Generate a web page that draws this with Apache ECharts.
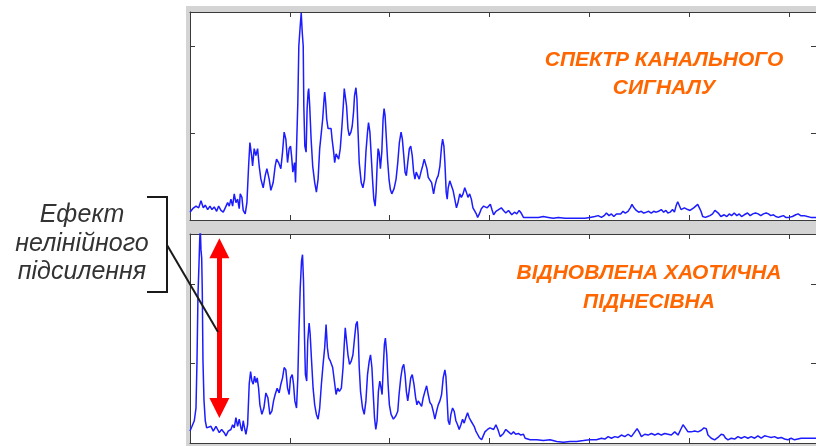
<!DOCTYPE html>
<html>
<head>
<meta charset="utf-8">
<script src="https://cdn.jsdelivr.net/npm/echarts@6/dist/echarts.min.js"></script>
<style>
  html, body { margin: 0; padding: 0; background: #ffffff; }
  #chart { width: 816px; height: 446px; }
</style>
</head>
<body>
<div id="chart"></div>
<script>
// Spectrum of the channel signal: [frequency, amplitude]
const channelSpectrum = [[0,0.09],[2.7,0.13],[6,0.16],[8.7,0.14],[11,0.22],[13.3,0.14],[15.3,0.17],[17.7,0.12],[20,0.16],[22,0.12],[24.3,0.15],[26.7,0.10],[28.7,0.16],[31,0.11],[33.3,0.09],[35.3,0.14],[37.7,0.20],[39.3,0.16],[41,0.24],[42.7,0.16],[44.3,0.30],[46,0.20],[47.7,0.24],[49.3,0.13],[50.3,0.30],[52,0.26],[53.3,0.11],[55.3,0.07],[57,0.20],[58.7,0.62],[60,0.89],[61.7,0.74],[62.7,0.62],[64.3,0.82],[66,0.74],[67.7,0.82],[69.3,0.62],[71,0.47],[73.3,0.37],[75.3,0.51],[77,0.59],[79.3,0.47],[81,0.34],[83.3,0.43],[85.3,0.62],[86.7,0.70],[88.7,0.66],[91,0.59],[92.7,0.78],[94.3,1.01],[96,0.93],[97.7,0.66],[99.3,0.82],[100.7,0.85],[101.7,0.74],[103,0.55],[104.7,0.66],[105.7,0.43],[106.7,0.82],[108,1.35],[109,2.00],[110.4,2.23],[111.4,2.38],[112.4,2.16],[113.4,2.00],[114,1.31],[115,0.85],[116.3,0.78],[117.3,1.28],[118.3,1.47],[118.9,1.51],[119.9,1.31],[121.3,0.93],[122.9,0.62],[124.9,0.43],[126.6,0.32],[128.3,0.47],[129.9,0.82],[131.6,1.01],[132.9,1.16],[134.3,1.39],[134.9,1.47],[135.9,1.35],[136.9,1.16],[138.3,1.05],[139.9,1.06],[141.3,1.05],[142.3,0.93],[143.9,0.78],[144.9,0.66],[146.3,0.76],[147.9,0.74],[148.9,0.70],[150.5,0.82],[152.2,1.08],[153.5,1.31],[154.5,1.51],[155.5,1.51],[156.8,1.31],[158.2,1.05],[159.5,0.97],[161.2,1.01],[162.5,1.08],[163.8,1.24],[164.8,1.43],[166.2,1.52],[167.2,1.39],[168.2,1.05],[169.5,0.66],[171.5,0.43],[173.2,0.37],[174.8,0.47],[176.2,0.78],[177.8,1.01],[178.8,1.12],[180.2,1.01],[181.5,0.74],[182.8,0.47],[184.1,0.24],[185.4,0.16],[186.4,0.32],[187.4,0.62],[188.4,0.82],[189.4,0.78],[190.7,0.59],[192.1,0.78],[193.4,1.16],[194.4,1.28],[195.4,1.20],[196.7,0.93],[197.9,0.69],[199.4,0.46],[200.7,0.35],[202.1,0.30],[204.4,0.36],[206.4,0.47],[208.1,0.66],[209.7,0.89],[211.4,1.01],[212.7,0.93],[214.1,0.74],[215.4,0.55],[216.7,0.51],[218.1,0.66],[219.7,0.82],[221.1,0.85],[222.6,0.74],[224,0.55],[225.3,0.47],[226.6,0.55],[228,0.53],[229.6,0.47],[231.3,0.55],[233,0.62],[234.6,0.70],[236,0.72],[237.3,0.59],[238.6,0.49],[240.3,0.49],[242,0.43],[244,0.30],[245.3,0.39],[247,0.47],[248.6,0.51],[250.3,0.62],[252,0.85],[253,0.93],[254.3,0.85],[255.3,0.66],[256.6,0.32],[257.6,0.24],[258.6,0.37],[260.2,0.45],[261.9,0.43],[263.5,0.34],[265.2,0.24],[266.9,0.14],[268.4,0.20],[270.2,0.30],[271.8,0.26],[273.5,0.30],[275.2,0.37],[276.8,0.32],[278.4,0.26],[280.1,0.30],[281.8,0.24],[283.4,0.14],[285.1,0.13],[286.8,0.07],[288.1,0.03],[289.8,0.07],[291.8,0.13],[294.1,0.16],[297.7,0.14],[300.8,0.18],[302.4,0.12],[304.1,0.06],[306.4,0.10],[309.1,0.12],[311.8,0.14],[314,0.11],[316.3,0.08],[319,0.11],[320.7,0.09],[322.3,0.06],[325,0.09],[327.3,0.07],[329.7,0.11],[331.7,0.08],[334,0.03],[339,0.03],[344,0.03],[349,0.03],[353.9,0.04],[358.9,0.03],[363.9,0.02],[368.9,0.03],[375.6,0.02],[382.1,0.02],[388.8,0.02],[395.5,0.02],[400.5,0.03],[405.5,0.04],[408.8,0.05],[412.1,0.03],[414.8,0.05],[417.1,0.08],[419.7,0.05],[422.1,0.07],[424.5,0.04],[427.1,0.07],[429.1,0.09],[431.4,0.07],[433.7,0.10],[436,0.08],[438.7,0.10],[441,0.14],[442.7,0.18],[444.7,0.14],[447,0.11],[449.4,0.09],[452,0.10],[454.4,0.08],[457,0.09],[459.4,0.10],[462,0.08],[464.4,0.10],[467,0.09],[469.3,0.10],[472,0.12],[474.4,0.09],[476.7,0.11],[478.6,0.08],[480.9,0.09],[483.3,0.12],[485.2,0.09],[486.8,0.16],[488.5,0.21],[490.2,0.20],[491.8,0.12],[493.5,0.13],[495.2,0.14],[496.8,0.13],[498.5,0.12],[500.8,0.11],[502.5,0.12],[504.5,0.14],[506.5,0.14],[508.5,0.18],[510.2,0.14],[511.8,0.10],[513.5,0.04],[516.2,0.03],[518.4,0.04],[520.8,0.05],[523.4,0.07],[525.8,0.11],[527.7,0.13],[529.1,0.08],[531.7,0.04],[535.1,0.06],[537.7,0.04],[540.1,0.07],[542.4,0.05],[545.1,0.08],[547.7,0.05],[550.1,0.07],[552.4,0.04],[555.1,0.06],[558.4,0.08],[561.1,0.05],[563.7,0.07],[566.4,0.08],[569.1,0.07],[571.7,0.05],[574.4,0.07],[577.1,0.08],[579.4,0.07],[581.7,0.05],[584.4,0.06],[586.7,0.04],[589.3,0.03],[591.6,0.04],[594.4,0.05],[596.7,0.03],[600,0.03],[603.4,0.04],[606.7,0.06],[609.1,0.07],[611.7,0.05],[615.1,0.05],[618.4,0.04],[621.8,0.03],[624.4,0.03],[627,0.03]];

// Spectrum of the recovered chaotic subcarrier: [frequency, amplitude]
const recoveredSubcarrier = [[0,0.15],[2,0.21],[4.3,0.28],[6,0.44],[7,1.03],[8,1.87],[9,2.25],[9.7,2.55],[10.3,2.70],[11,2.43],[11.7,2.33],[12.3,1.92],[13,1.03],[14,0.54],[15.3,0.28],[16.7,0.19],[18.7,0.17],[21,0.21],[23.3,0.15],[26,0.21],[27.7,0.17],[29.3,0.13],[31.7,0.17],[34.3,0.13],[36,0.09],[38.3,0.15],[41,0.17],[42.7,0.23],[44.3,0.19],[46,0.32],[47.7,0.21],[49.3,0.30],[51,0.19],[52,0.15],[53.3,0.28],[54.3,0.21],[56,0.11],[57.7,0.23],[59.3,0.74],[60.7,0.90],[62,0.78],[63.3,0.74],[64.7,0.84],[66,0.76],[67.3,0.82],[68.7,0.69],[70,0.48],[72,0.36],[74,0.44],[76,0.63],[78,0.57],[80,0.36],[82,0.40],[83.7,0.53],[85.3,0.61],[87.3,0.69],[89.3,0.63],[91,0.74],[92.7,0.82],[94.3,0.95],[96,0.92],[97.7,0.69],[99.3,0.61],[100.7,0.82],[102.4,0.86],[103.7,0.74],[105,0.53],[106.7,0.44],[108,0.82],[109,1.36],[110.4,1.95],[111.7,2.29],[112.7,2.37],[113.7,2.04],[114.7,1.32],[115.6,0.86],[116.9,0.78],[117.9,1.28],[119.3,1.51],[120.3,1.38],[121.6,1.07],[123.3,0.69],[124.9,0.48],[126.6,0.36],[128.3,0.30],[129.9,0.44],[131.6,0.74],[133.3,0.99],[134.9,1.20],[136.3,1.49],[137.6,1.20],[138.9,1.07],[140.6,1.03],[141.6,1.05],[142.9,0.95],[144.6,0.78],[146.3,0.61],[147.9,0.69],[149.6,0.65],[151.6,0.69],[153.3,0.95],[154.5,1.24],[155.5,1.45],[156.8,1.43],[158.2,1.11],[159.8,0.99],[161.5,1.03],[163.2,1.11],[164.8,1.32],[166.2,1.49],[167.5,1.53],[168.5,1.36],[169.5,0.95],[170.8,0.65],[172.8,0.44],[174.5,0.36],[176.2,0.53],[177.8,0.86],[179.5,1.03],[180.8,1.11],[182.2,0.95],[183.4,0.65],[184.8,0.32],[186.1,0.17],[187.4,0.28],[188.7,0.65],[190.1,0.78],[191.4,0.69],[192.4,0.61],[193.4,0.90],[194.7,1.24],[195.7,1.32],[197.1,1.11],[198.4,0.74],[199.7,0.48],[201.4,0.36],[203.7,0.30],[206.1,0.34],[208.1,0.40],[209.4,0.61],[211.1,0.82],[212.7,0.95],[214.1,0.99],[215.4,0.86],[216.7,0.65],[218.1,0.53],[219.4,0.65],[221.1,0.82],[222.6,0.86],[224.3,0.74],[226,0.57],[227.3,0.48],[228.6,0.53],[230.3,0.51],[232,0.46],[233.6,0.57],[235.3,0.65],[237,0.72],[238.6,0.61],[240.3,0.51],[242,0.48],[243.6,0.40],[245.3,0.30],[247,0.40],[248.6,0.48],[250.3,0.53],[252,0.61],[253.6,0.82],[255.3,0.92],[256.3,0.84],[257.3,0.61],[258.6,0.28],[260,0.23],[261.3,0.36],[263,0.44],[264.6,0.40],[266.3,0.28],[268,0.23],[269.6,0.17],[271.3,0.23],[273,0.30],[274.6,0.25],[276.3,0.32],[278,0.38],[279.6,0.32],[281.3,0.28],[283,0.30],[284.6,0.21],[286.3,0.15],[288,0.11],[289.7,0.07],[292.1,0.04],[293.7,0.09],[295.4,0.14],[298,0.17],[300.4,0.19],[302.1,0.21],[304.1,0.17],[306.4,0.23],[308.4,0.17],[310.7,0.08],[314,0.12],[316.3,0.17],[319,0.14],[321.7,0.11],[324,0.14],[326.3,0.11],[329,0.12],[331.3,0.10],[334,0.11],[335.7,0.06],[340.7,0.04],[347.3,0.04],[354,0.03],[360.6,0.04],[367.3,0.02],[374,0.01],[380.6,0.02],[387.3,0.02],[394,0.03],[400.5,0.04],[407.1,0.04],[412.1,0.06],[415.5,0.05],[418.8,0.08],[422.1,0.06],[425.5,0.08],[428.8,0.07],[432.1,0.10],[435.5,0.08],[438.8,0.11],[442.1,0.08],[445.5,0.14],[447.8,0.18],[449.8,0.14],[452.1,0.08],[455.5,0.11],[458.8,0.10],[462.1,0.12],[465.5,0.10],[468.8,0.12],[472.1,0.10],[475.5,0.12],[478.8,0.11],[482.1,0.10],[485.5,0.14],[488.8,0.10],[491.5,0.17],[493.8,0.23],[496.1,0.19],[498.8,0.14],[502.1,0.14],[505.5,0.15],[508.8,0.14],[512.1,0.16],[514.8,0.19],[517.1,0.18],[518.8,0.10],[522.1,0.06],[525.5,0.04],[528.8,0.07],[532.1,0.11],[534.5,0.10],[536.5,0.06],[538.8,0.04],[542.1,0.06],[545.5,0.05],[548.8,0.08],[552.1,0.06],[555.5,0.08],[558.8,0.06],[562.1,0.08],[565.5,0.06],[568.8,0.09],[572.1,0.06],[575.5,0.09],[578.8,0.08],[582.1,0.07],[585.5,0.08],[588.8,0.06],[592.1,0.07],[595.5,0.05],[598.8,0.04],[602.1,0.06],[605.5,0.04],[608.8,0.05],[612.1,0.06],[615.5,0.06],[620.5,0.06],[624.4,0.06],[627,0.06]];

// Axis ranges (ticks every 100 in frequency, every 1 in amplitude)
const freqRange = [0, 627];
const freqStep = 100;
const ampRangeTop = [0, 2.39];
const ampRangeBottom = [0, 2.63];
const ampStep = 1;

// Double arrow marking the gain of the low-frequency spike
const gainArrow = [[29.4, 0.44], [29.4, 2.45]];

// Text
const topCaption = ['СПЕКТР КАНАЛЬНОГО', 'СИГНАЛУ'];
const bottomCaption = ['ВІДНОВЛЕНА ХАОТИЧНА', 'ПІДНЕСІВНА'];
const sideNote = ['Ефект', 'нелінійного', 'підсилення'];

const AXIS_COLOR = '#3a3a3a';
const LINE_COLOR = '#1c1cff';
const CAPTION_COLOR = '#ff6600';
const CAPTION_FONT = 'italic bold 21px "Liberation Sans", Arial, sans-serif';
const NOTE_FONT = 'italic 25px "Liberation Sans", Arial, sans-serif';

function xAxes(gridIndex) {
  return ['bottom', 'top'].map(pos => ({
    type: 'value', gridIndex, position: pos,
    min: freqRange[0], max: freqRange[1], interval: freqStep,
    axisLine: { show: true, onZero: false, lineStyle: { color: AXIS_COLOR, width: 1 } },
    axisTick: { show: true, inside: true, length: 5, lineStyle: { color: AXIS_COLOR } },
    axisLabel: { show: false },
    splitLine: { show: false }
  }));
}
function yAxes(gridIndex, range) {
  return ['left', 'right'].map(pos => ({
    type: 'value', gridIndex, position: pos,
    min: range[0], max: range[1], interval: ampStep,
    axisLine: { show: true, onZero: false, lineStyle: { color: AXIS_COLOR, width: 1 } },
    axisTick: { show: true, inside: true, length: 5, lineStyle: { color: AXIS_COLOR } },
    axisLabel: { show: false },
    splitLine: { show: false }
  }));
}

function captionLines(lines, cx, firstY, gap) {
  return lines.map((t, i) => ({
    type: 'text', x: cx, y: firstY + i * gap, z: 10,
    style: { text: t, font: CAPTION_FONT, fill: CAPTION_COLOR, align: 'center', verticalAlign: 'middle' }
  }));
}

const chart = echarts.init(document.getElementById('chart'), null, { renderer: 'canvas' });

chart.setOption({
  animation: false,
  backgroundColor: '#ffffff',
  grid: [
    { left: 190, top: 12, width: 629, height: 208, show: true, backgroundColor: '#ffffff', borderWidth: 0 },
    { left: 190, top: 234, width: 629, height: 209, show: true, backgroundColor: '#ffffff', borderWidth: 0 }
  ],
  xAxis: [...xAxes(0), ...xAxes(1)],
  yAxis: [...yAxes(0, ampRangeTop), ...yAxes(1, ampRangeBottom)],
  series: [
    {
      type: 'line', xAxisIndex: 0, yAxisIndex: 0, data: channelSpectrum,
      showSymbol: false, clip: true, silent: true,
      lineStyle: { color: LINE_COLOR, width: 1.5 }
    },
    {
      type: 'line', xAxisIndex: 2, yAxisIndex: 2, data: recoveredSubcarrier,
      showSymbol: false, clip: true, silent: true,
      lineStyle: { color: LINE_COLOR, width: 1.5 },
      markLine: {
        silent: true,
        symbol: ['triangle', 'triangle'],
        symbolSize: [20, 20],
        label: { show: false },
        lineStyle: { color: '#ff0000', width: 5, type: 'solid' },
        itemStyle: { color: '#ff0000' },
        emphasis: { disabled: true },
        data: [[{ coord: gainArrow[0] }, { coord: gainArrow[1] }]]
      }
    }
  ],
  graphic: {
    elements: [
      // figure backdrop around the two axes
      { type: 'rect', z: -100, shape: { x: 186, y: 6, width: 640, height: 450 }, style: { fill: '#d4d4d4' } },
      ...captionLines(topCaption, 664, 60, 28.4),
      ...captionLines(bottomCaption, 649, 273.5, 28.4),
      ...sideNote.map((t, i) => ({
        type: 'text', x: 82, y: 215.5 + i * 28.4, z: 10,
        style: { text: t, font: NOTE_FONT, fill: '#333333', align: 'center', verticalAlign: 'middle' }
      })),
      // bracket grouping the note
      { type: 'polyline', z: 10, shape: { points: [[147, 197], [167, 197], [167, 292], [147, 292]] },
        style: { stroke: '#1a1a1a', lineWidth: 2, fill: null } },
      // leader from the bracket to the arrow
      { type: 'line', z: 10, shape: { x1: 167, y1: 245, x2: 218, y2: 332 },
        style: { stroke: '#1a1a1a', lineWidth: 2 } }
    ]
  }
});
</script>
</body>
</html>
